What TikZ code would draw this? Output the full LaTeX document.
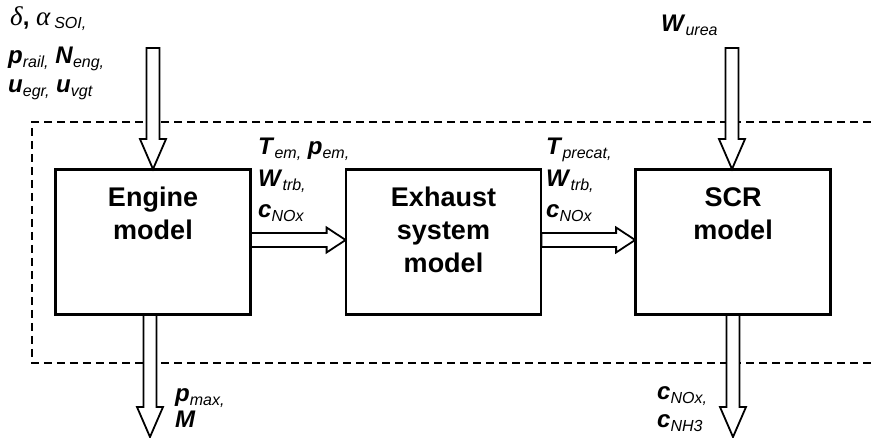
\documentclass[tikz,border=0pt]{standalone}
\usepackage{fontspec}
\setmainfont{Liberation Sans}
\newfontfamily\grk{Liberation Serif}
\usetikzlibrary{calc}
\newcommand\V[2]{\textbf{\textit{#1}}\raisebox{-3.5pt}{\fontsize{16}{16}\selectfont\textit{#2}}}
\newcommand\fatdown[2]{\draw[fat] let \p1=(#1), \p2=(#2) in
  (\x1-6.5pt,\y1) -- (\x1-6.5pt,\y2+30pt) -- (\x1-13pt,\y2+30pt) -- (\x1,\y2)
  -- (\x1+13pt,\y2+30pt) -- (\x1+6.5pt,\y2+30pt) -- (\x1+6.5pt,\y1) -- cycle;}
\newcommand\fatright[2]{\draw[fat] let \p1=(#1), \p2=(#2) in
  (\x1,\y1+7pt) -- (\x2-19pt,\y1+7pt) -- (\x2-19pt,\y1+12.5pt) -- (\x2,\y1)
  -- (\x2-19pt,\y1-12.5pt) -- (\x2-19pt,\y1-7pt) -- (\x1,\y1-7pt) -- cycle;}
\tikzset{
  fat/.style={draw=black, fill=white, line width=1.8pt, line join=miter},
  blk/.style={draw=black, fill=white, line width=1.8pt, minimum width=194pt, minimum height=144pt, inner sep=0pt},
  boxtxt/.style={font=\fontsize{27}{33}\selectfont\bfseries, align=center, inner sep=0pt, anchor=north},
  lbl/.style={font=\fontsize{24}{28}\selectfont, inner sep=0pt, anchor=base west},
  frame/.style={draw=black, line width=1.4pt, dash pattern=on 8pt off 5pt}
}
\begin{document}
\begin{tikzpicture}[x=1pt,y=-1pt]
\useasboundingbox (0,0) rectangle (871,438);
% dashed system frame
\coordinate (ftr) at (871,122);
\coordinate (ftl) at (32,122);
\coordinate (fbl) at (32,363);
\coordinate (fbr) at (871,363);
\draw[frame] (ftr) -- (ftl) -- (fbl) -- (fbr);
% blocks
\node[blk] (eng) at (153,242) {};
\node[blk] (exh) at (443.5,242) {};
\node[blk] (scr) at (733,242) {};
\node[boxtxt] (engt) at ($(eng.north)+(0,18)$) {Engine\\model};
\node[boxtxt] (exht) at ($(exh.north)+(0,17.5)$) {Exhaust\\system\\model};
\node[boxtxt] (scrt) at ($(scr.north)+(0,18)$) {SCR\\model};
% input arrows
\coordinate (in1) at (153,48);
\coordinate (in2) at (732,48);
\fatdown{in1}{eng.north}
\fatdown{in2}{scr.north}
% output arrows
\coordinate (o1t) at (150,314);
\coordinate (o1b) at (150,437);
\coordinate (o2t) at (733,314);
\coordinate (o2b) at (733,437);
\fatdown{o1t}{o1b}
\fatdown{o2t}{o2b}
% horizontal arrows
\coordinate (h1) at ($(eng.east)+(0,-2)$);
\coordinate (h2) at ($(exh.east)+(0,-2)$);
\fatright{h1}{exh.west}
\fatright{h2}{scr.west}
% redraw block borders on top
\draw[line width=1.8pt] (eng.north west) rectangle (eng.south east);
\draw[line width=1.8pt] (exh.north west) rectangle (exh.south east);
\draw[line width=1.8pt] (scr.north west) rectangle (scr.south east);
% labels
\node[lbl] (a1) at (10,26) {{\fontsize{27}{28}\selectfont\grk\itshape δ}\textbf{,} {\fontsize{27}{28}\selectfont\grk\itshape α}\,\raisebox{-3pt}{\fontsize{16}{16}\selectfont\textit{SOI,}}};
\node[lbl] (a2) at (8,64) {\V{p}{rail,} \V{N}{eng,}};
\node[lbl] (a3) at (8,93) {\V{u}{egr,} \V{u}{vgt}};
\node[lbl] (b1) at (258,155) {\V{T}{em,} \V{p}{em,}};
\node[lbl] (b2) at (258,187) {\V{W}{trb,}};
\node[lbl] (b3) at (258,218) {\V{c}{NOx}};
\node[lbl] (c1) at (546,155) {\V{T}{precat,}};
\node[lbl] (c2) at (546,187) {\V{W}{trb,}};
\node[lbl] (c3) at (546,218) {\V{c}{NOx}};
\node[lbl] (d1) at (661,32) {\V{W}{urea}};
\node[lbl] (e1) at (175,402) {\V{p}{max,}};
\node[lbl] (e2) at (175,428) {\V{M}{}};
\node[lbl] (f1) at (657,400) {\V{c}{NOx,}};
\node[lbl] (f2) at (657,428) {\V{c}{NH3}};
\end{tikzpicture}
\end{document}
